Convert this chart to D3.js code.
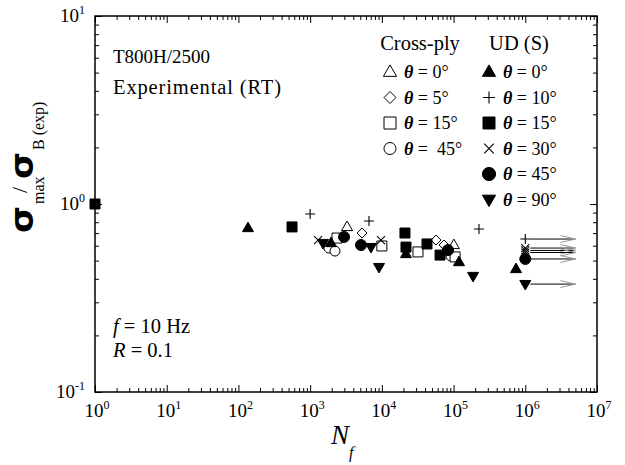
<!DOCTYPE html>
<html>
<head>
<meta charset="utf-8">
<script src="https://cdn.jsdelivr.net/npm/d3@7"></script>
<style>
  html, body { margin: 0; padding: 0; background: #fff; }
  svg { display: block; }
  text { font-family: "Liberation Serif", "Times New Roman", serif; fill: #000; }
</style>
</head>
<body>
<svg id="chart" width="625" height="465"></svg>
<script>
// Fatigue data: cycles to failure N_f and normalised max stress sigma_max / sigma_B(exp)
// UD (S) specimens
const udTheta0  = [[136, 0.745], [1955, 0.620], [21700, 0.542], [119000, 0.491], [743000, 0.451]];
const udTheta10 = [[1000, 0.885], [6620, 0.812], [226000, 0.736], [1000000, 0.651]];
const udTheta15 = [[1, 1.0], [559, 0.755], [21000, 0.701], [21700, 0.590], [42600, 0.613], [64800, 0.535]];
const udTheta30 = [[1290, 0.643], [9730, 0.643], [1000000, 0.583], [1000000, 0.566], [1000000, 0.552]];
const udTheta45 = [[2970, 0.668], [5120, 0.605], [83700, 0.569], [1000000, 0.510]];
const udTheta90 = [[1510, 0.620], [7060, 0.590], [9130, 0.462], [187000, 0.414], [1000000, 0.375]];
// Cross-ply specimens
const cpTheta0  = [[3270, 0.755], [101000, 0.605]];
const cpTheta5  = [[5290, 0.701], [56900, 0.643], [73700, 0.605]];
const cpTheta15 = [[2370, 0.659], [10000, 0.598], [31900, 0.556], [105000, 0.523]];
const cpTheta45 = [[1830, 0.583], [2220, 0.562], [92000, 0.529]];

// run-out specimens (no failure) are marked with arrows to this cycle count
const runoutN = 1000000;
const arrowEndN = 5000000;

const xTickExponents = [0, 1, 2, 3, 4, 5, 6, 7];
const yTickExponents = [-1, 0, 1];

const crossPlyLegend = ["\u03B8 = 0\u00B0", "\u03B8 = 5\u00B0", "\u03B8 = 15\u00B0", "\u03B8 =  45\u00B0"];
const udLegend = ["\u03B8 = 0\u00B0", "\u03B8 = 10\u00B0", "\u03B8 = 15\u00B0", "\u03B8 = 30\u00B0", "\u03B8 = 45\u00B0", "\u03B8 = 90\u00B0"];

const svg = d3.select("#chart");
const x = d3.scaleLog().domain([1, 1e7]).range([95, 597]);
const y = d3.scaleLog().domain([0.1, 10]).range([392, 16]);

// ----- marker shapes -----
function markerPath(type, s) {
  const p = d3.path();
  const h = s / 2;
  switch (type) {
    case "triUp": {
      const t = s * 0.866;
      p.moveTo(0, -t * 0.62); p.lineTo(h, t * 0.38); p.lineTo(-h, t * 0.38); p.closePath();
      break;
    }
    case "triDown": {
      const t = s * 0.866;
      p.moveTo(0, t * 0.62); p.lineTo(h, -t * 0.38); p.lineTo(-h, -t * 0.38); p.closePath();
      break;
    }
    case "square":
      p.rect(-h, -h, s, s);
      break;
    case "diamond":
      p.moveTo(0, -h); p.lineTo(h, 0); p.lineTo(0, h); p.lineTo(-h, 0); p.closePath();
      break;
    case "circle":
      p.arc(0, 0, h, 0, 2 * Math.PI);
      break;
    case "plus":
      p.moveTo(-h, 0); p.lineTo(h, 0); p.moveTo(0, -h); p.lineTo(0, h);
      break;
    case "cross": {
      const c = h * 0.8;
      p.moveTo(-c, -c); p.lineTo(c, c); p.moveTo(-c, c); p.lineTo(c, -c);
      break;
    }
  }
  return p.toString();
}
function styleMarker(sel, filled, type) {
  const lineOnly = type === "plus" || type === "cross";
  sel.attr("fill", lineOnly ? "none" : (filled ? "#000" : "#fff"))
     .attr("stroke", "#000")
     .attr("stroke-width", lineOnly ? 1.1 : 1);
}

const series = [
  { data: cpTheta45, type: "circle",  filled: false, size: 10, legend: 3, col: "cp" },
  { data: cpTheta15, type: "square",  filled: false, size: 10, legend: 2, col: "cp" },
  { data: cpTheta5,  type: "diamond", filled: false, size: 10, legend: 1, col: "cp" },
  { data: cpTheta0,  type: "triUp",   filled: false, size: 11, legend: 0, col: "cp" },
  { data: udTheta0,  type: "triUp",   filled: true,  size: 11, legend: 0, col: "ud" },
  { data: udTheta10, type: "plus",    filled: false, size: 10, legend: 1, col: "ud" },
  { data: udTheta15, type: "square",  filled: true,  size: 10, legend: 2, col: "ud" },
  { data: udTheta30, type: "cross",   filled: false, size: 10, legend: 3, col: "ud" },
  { data: udTheta45, type: "circle",  filled: true,  size: 11, legend: 4, col: "ud" },
  { data: udTheta90, type: "triDown", filled: true,  size: 11, legend: 5, col: "ud" }
];

// ----- run-out arrows -----
const arrows = svg.append("g");
series.forEach(s => {
  s.data.filter(d => d[0] === runoutN).forEach(d => {
    const x0 = x(d[0]) + 5, x1 = x(arrowEndN), yy = y(d[1]);
    arrows.append("line").attr("x1", x0).attr("x2", x1).attr("y1", yy).attr("y2", yy)
      .attr("stroke", "#000").attr("stroke-width", 1);
    arrows.append("path")
      .attr("d", `M${x1 - 15},${yy - 3.5}L${x1},${yy}L${x1 - 15},${yy + 3.5}`)
      .attr("fill", "none").attr("stroke", "#9a9a9a").attr("stroke-width", 1);
  });
});

// ----- data markers -----
const marks = svg.append("g");
series.forEach(s => {
  marks.selectAll(null).data(s.data).enter().append("path")
    .attr("transform", d => `translate(${x(d[0])},${y(d[1])})`)
    .attr("d", markerPath(s.type, s.size))
    .call(styleMarker, s.filled, s.type);
});

// ----- axes: frame with inward major/minor ticks on all four sides -----
const majorX = xTickExponents.map(e => Math.pow(10, e));
const minorX = [];
xTickExponents.slice(0, -1).forEach(e => { for (let k = 2; k <= 9; k++) minorX.push(k * Math.pow(10, e)); });
const majorY = yTickExponents.map(e => Math.pow(10, e));
const minorY = [];
yTickExponents.slice(0, -1).forEach(e => { for (let k = 2; k <= 9; k++) minorY.push(k * Math.pow(10, e)); });

const [xl, xr] = x.range();
const [yb, yt] = y.range();

function tickAxis(axisFn, scale, values, size, transform) {
  svg.append("g").attr("transform", transform)
    .call(axisFn(scale).tickValues(values).tickSize(size).tickFormat(""))
    .call(g => g.select(".domain").remove())
    .call(g => g.selectAll(".tick line").attr("stroke", "#000").attr("stroke-width", 1));
}
tickAxis(d3.axisBottom, x, majorX, -7, `translate(0,${yb})`);
tickAxis(d3.axisBottom, x, minorX, -4, `translate(0,${yb})`);
tickAxis(d3.axisTop, x, majorX, -7, `translate(0,${yt})`);
tickAxis(d3.axisTop, x, minorX, -4, `translate(0,${yt})`);
tickAxis(d3.axisLeft, y, majorY, -7, `translate(${xl},0)`);
tickAxis(d3.axisLeft, y, minorY, -4, `translate(${xl},0)`);
tickAxis(d3.axisRight, y, majorY, -7, `translate(${xr},0)`);
tickAxis(d3.axisRight, y, minorY, -4, `translate(${xr},0)`);

svg.append("rect").attr("x", xl).attr("y", yt).attr("width", xr - xl).attr("height", yb - yt)
  .attr("fill", "none").attr("stroke", "#000").attr("stroke-width", 1.5);

// tick labels as 10 with superscript exponent
xTickExponents.forEach(e => {
  const t = svg.append("text").attr("x", x(Math.pow(10, e)) + 2).attr("y", yb + 25)
    .attr("text-anchor", "middle").attr("font-size", 19);
  t.append("tspan").text("10");
  t.append("tspan").attr("font-size", 12).attr("dy", -8).text(e);
});
yTickExponents.forEach(e => {
  const t = svg.append("text").attr("x", xl - 10).attr("y", y(Math.pow(10, e)) + 6)
    .attr("text-anchor", "end").attr("font-size", 19);
  t.append("tspan").text("10");
  t.append("tspan").attr("font-size", 12).attr("dy", -8).text(e);
});

// axis titles
const xt = svg.append("text").attr("x", 331).attr("y", 444).attr("font-size", 27).attr("font-style", "italic");
xt.append("tspan").text("N");
xt.append("tspan").attr("font-size", 16).attr("dy", 14).text("f");

const yt2 = svg.append("g").attr("transform", "translate(33,233) rotate(-90)");
yt2.append("text").attr("x", 0).attr("y", 0).attr("font-size", 32)
  .attr("textLength", 27).attr("lengthAdjust", "spacingAndGlyphs")
  .style("font-family", "'DejaVu Sans', sans-serif").attr("font-weight", "bold").text("\u03C3");
yt2.append("text").attr("x", 29).attr("y", 11).attr("font-size", 16).text("max");
yt2.append("text").attr("x", 40).attr("y", -6).attr("font-size", 22).text("/");
yt2.append("text").attr("x", 54).attr("y", 0).attr("font-size", 32)
  .attr("textLength", 27).attr("lengthAdjust", "spacingAndGlyphs")
  .style("font-family", "'DejaVu Sans', sans-serif").attr("font-weight", "bold").text("\u03C3");
yt2.append("text").attr("x", 83).attr("y", 11).attr("font-size", 16).text("B (exp)");

// annotations
svg.append("text").attr("x", 113).attr("y", 63).attr("font-size", 19).text("T800H/2500");
svg.append("text").attr("x", 113).attr("y", 94).attr("font-size", 20.5)
  .attr("textLength", 168).attr("lengthAdjust", "spacing").text("Experimental (RT)");
const f1 = svg.append("text").attr("x", 113).attr("y", 333).attr("font-size", 20.5);
f1.append("tspan").attr("font-style", "italic").text("f");
f1.append("tspan").attr("xml:space", "preserve").style("white-space", "pre").text(" = 10 Hz");
const f2 = svg.append("text").attr("x", 113).attr("y", 357).attr("font-size", 20.5);
f2.append("tspan").attr("font-style", "italic").text("R");
f2.append("tspan").attr("xml:space", "preserve").style("white-space", "pre").text(" = 0.1");

// legend
svg.append("text").attr("x", 420).attr("y", 50).attr("text-anchor", "middle").attr("font-size", 20.5).text("Cross-ply");
svg.append("text").attr("x", 519).attr("y", 50).attr("text-anchor", "middle").attr("font-size", 20.5).text("UD (S)");
const rowY = i => 72 + i * 25.5;
const legendCols = { cp: { sx: 390, tx: 404, labels: crossPlyLegend }, ud: { sx: 489, tx: 503, labels: udLegend } };
series.forEach(s => {
  const c = legendCols[s.col];
  const yy = rowY(s.legend);
  svg.append("path").attr("transform", `translate(${c.sx},${yy})`)
    .attr("d", markerPath(s.type, s.size * 1.2))
    .call(styleMarker, s.filled, s.type);
  const label = c.labels[s.legend];
  const t = svg.append("text").attr("x", c.tx).attr("y", yy + 6).attr("font-size", 18)
    .attr("xml:space", "preserve").style("white-space", "pre");
  t.append("tspan").attr("font-style", "italic").attr("font-weight", "bold").text(label.slice(0, 1));
  t.append("tspan").text(label.slice(1));
});
</script>
</body>
</html>
